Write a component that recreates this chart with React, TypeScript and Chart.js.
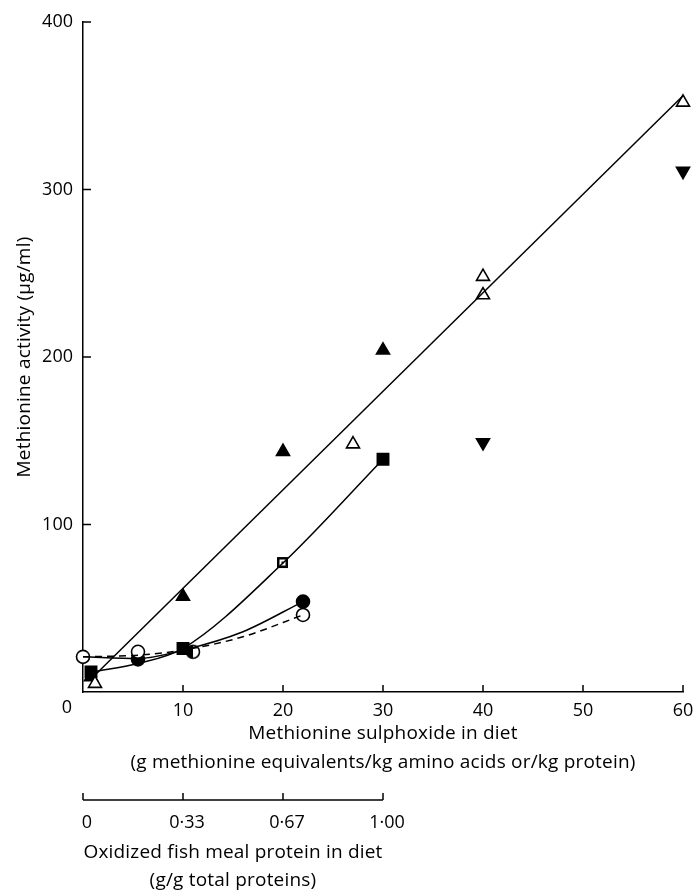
import React, { useEffect, useRef } from "react";
import { Chart, registerables } from "chart.js";
Chart.register(...registerables);

const FONT = "'Open Sans', Lato, sans-serif";

// ---- data ----
const openTriangles = [
  { x: 1.2, y: 5 },
  { x: 27, y: 148 },
  { x: 40, y: 248 },
  { x: 40, y: 237 },
  { x: 60, y: 352 },
];
const filledTriangles = [
  { x: 0.8, y: 9 },
  { x: 10, y: 57 },
  { x: 20, y: 143.5 },
  { x: 30, y: 204 },
];
const invertedTriangles = [
  { x: 40, y: 149 },
  { x: 60, y: 311 },
];
const filledSquares = [
  { x: 0.8, y: 12 },
  { x: 10, y: 26 },
  { x: 30, y: 139 },
];
const dottedSquares = [{ x: 20, y: 77 }];
const filledCircles = [
  { x: 5.5, y: 19.5 },
  { x: 22, y: 54 },
];
const openCircles = [
  { x: 0, y: 21 },
  { x: 5.5, y: 24 },
  { x: 22, y: 46 },
];
const halfCircles = [{ x: 11, y: 24 }];

const straightLine = [
  { x: 1, y: 9 },
  { x: 60, y: 356 },
];
const squaresCurve = [
  { x: 1, y: 12 },
  { x: 5.5, y: 17 },
  { x: 10, y: 26 },
  { x: 20, y: 77 },
  { x: 30, y: 139 },
];
const circlesCurve = [
  { x: 0, y: 21 },
  { x: 5.5, y: 20 },
  { x: 10, y: 25 },
  { x: 16, y: 36 },
  { x: 22, y: 54 },
];
const openCirclesDashed = [
  { x: 0, y: 21 },
  { x: 5.5, y: 22 },
  { x: 10, y: 25 },
  { x: 16, y: 33 },
  { x: 22, y: 46 },
];

const xTickValues = [0, 10, 20, 30, 40, 50, 60];
const yTickValues = [100, 200, 300, 400];
const secondaryTickValues = [0, 10, 20, 30];
const secondaryTickLabels = ["0", "0·33", "0·67", "1·00"];

const xTitle1 = "Methionine sulphoxide in diet";
const xTitle2 = "(g methionine equivalents/kg amino acids or/kg protein)";
const yTitle = "Methionine activity (μg/ml)";
const secTitle1 = "Oxidized fish meal protein in diet";
const secTitle2 = "(g/g total proteins)";

function makeHalfCircle(): HTMLCanvasElement {
  const c = document.createElement("canvas");
  c.width = 18;
  c.height = 18;
  const g = c.getContext("2d")!;
  g.fillStyle = "#fff";
  g.beginPath();
  g.arc(9, 9, 6.5, 0, Math.PI * 2);
  g.fill();
  g.fillStyle = "#000";
  g.beginPath();
  g.arc(9, 9, 6.5, Math.PI / 2, (Math.PI * 3) / 2);
  g.closePath();
  g.fill();
  g.lineWidth = 1.6;
  g.strokeStyle = "#000";
  g.beginPath();
  g.arc(9, 9, 6.5, 0, Math.PI * 2);
  g.stroke();
  return c;
}

function makeDottedSquare(): HTMLCanvasElement {
  const c = document.createElement("canvas");
  c.width = 14;
  c.height = 14;
  const g = c.getContext("2d")!;
  g.fillStyle = "#000";
  g.fillRect(1, 1, 11, 11);
  g.fillStyle = "#fff";
  g.fillRect(3.5, 3.5, 6, 6);
  g.fillStyle = "#000";
  g.fillRect(5.5, 5.5, 2, 2);
  return c;
}

const decorPlugin = {
  id: "decor",
  afterDraw(chart: any) {
    const ctx = chart.ctx as CanvasRenderingContext2D;
    const xs = chart.scales.x;
    const ys = chart.scales.y;
    const bottom = ys.bottom;
    const left = xs.left;
    ctx.save();
    ctx.strokeStyle = "#000";
    ctx.fillStyle = "#000";
    ctx.lineWidth = 1.5;
    // inward ticks on x
    xTickValues.forEach((v) => {
      if (v === 0) return;
      const px = xs.getPixelForValue(v);
      ctx.beginPath();
      ctx.moveTo(px, bottom);
      ctx.lineTo(px, bottom - 7);
      ctx.stroke();
    });
    // inward ticks on y
    yTickValues.forEach((v) => {
      const py = ys.getPixelForValue(v);
      ctx.beginPath();
      ctx.moveTo(left, py);
      ctx.lineTo(left + 8, py);
      ctx.stroke();
    });
    ctx.textAlign = "center";
    ctx.textBaseline = "middle";
    // x "0" label, offset left of the corner
    ctx.font = `18px ${FONT}`;
    ctx.fillText("0", xs.getPixelForValue(0) - 16, 708);
    // secondary axis
    const sx0 = xs.getPixelForValue(secondaryTickValues[0]);
    const sx1 = xs.getPixelForValue(secondaryTickValues[secondaryTickValues.length - 1]);
    const sy = 800;
    ctx.beginPath();
    ctx.moveTo(sx0, sy);
    ctx.lineTo(sx1, sy);
    ctx.stroke();
    secondaryTickValues.forEach((v, i) => {
      const px = xs.getPixelForValue(v);
      ctx.beginPath();
      ctx.moveTo(px, sy);
      ctx.lineTo(px, sy - 7);
      ctx.stroke();
      ctx.fillText(secondaryTickLabels[i], px + 4, 823);
    });
    // titles
    ctx.font = `19px ${FONT}`;
    (ctx as any).letterSpacing = "0.2px";
    const cx = (xs.left + xs.right) / 2;
    ctx.fillText(xTitle1, cx, 734);
    ctx.fillText(xTitle2, cx, 763);
    const scx = (sx0 + sx1) / 2;
    ctx.fillText(secTitle1, scx, 853);
    ctx.fillText(secTitle2, scx, 881);
    // y title
    ctx.translate(25, (ys.top + ys.bottom) / 2);
    ctx.rotate(-Math.PI / 2);
    ctx.fillText(yTitle, 0, 0);
    ctx.restore();
  },
};

export default function App() {
  const ref = useRef<HTMLCanvasElement | null>(null);
  useEffect(() => {
    if (!ref.current) return;
    const half = makeHalfCircle();
    const dotted = makeDottedSquare();
    const lineDs = (data: any[], dashed = false, monotone = true) => ({
      data,
      showLine: true,
      borderColor: "#000",
      borderWidth: 1.5,
      borderDash: dashed ? [7, 5] : [],
      pointRadius: 0,
      pointHoverRadius: 0,
      cubicInterpolationMode: monotone ? "monotone" : "default",
      tension: 0,
      fill: false,
      clip: false,
    });
    const markDs = (data: any[], style: any, radius: number, filled: boolean, rotation = 0) => ({
      data,
      showLine: false,
      clip: false,
      pointStyle: style,
      pointRadius: radius,
      pointHoverRadius: radius,
      pointRotation: rotation,
      pointBackgroundColor: filled ? "#000" : "#fff",
      pointBorderColor: "#000",
      pointBorderWidth: 1.6,
    });
    const chart = new Chart(ref.current, {
      type: "scatter",
      data: {
        datasets: [
          lineDs(straightLine, false, false),
          lineDs(squaresCurve),
          lineDs(circlesCurve),
          lineDs(openCirclesDashed, true),
          markDs(openTriangles, "triangle", 7.5, false),
          markDs(filledTriangles, "triangle", 7.5, true),
          markDs(invertedTriangles, "triangle", 7.5, true, 180),
          markDs(filledSquares, "rect", 8, true),
          markDs(dottedSquares, dotted, 7, true),
          markDs(openCircles, "circle", 6.5, false),
          markDs(filledCircles, "circle", 6.5, true),
          markDs(halfCircles, half, 7, true),
        ] as any,
      },
      options: {
        animation: false,
        responsive: false,
        events: [],
        layout: { padding: { top: 22, right: 12, left: 0, bottom: 0 } },
        plugins: { legend: { display: false }, tooltip: { enabled: false } },
        scales: {
          x: {
            type: "linear",
            min: 0,
            max: 60,
            afterFit: (s: any) => {
              s.height = 198;
              s.paddingLeft = 0;
              s.paddingRight = 0;
            },
            afterBuildTicks: (s: any) => {
              s.ticks = xTickValues.map((v) => ({ value: v }));
            },
            border: { display: true, color: "#000", width: 1.5 },
            grid: { display: true, drawOnChartArea: false, drawTicks: false },
            ticks: {
              color: "#000",
              padding: 8,
              font: { family: FONT, size: 18 },
              maxRotation: 0,
              callback: (v: any) => (v === 0 ? "" : String(v)),
            },
          },
          y: {
            type: "linear",
            min: 0,
            max: 400,
            afterFit: (s: any) => {
              s.width = 83;
              s.paddingTop = 0;
              s.paddingBottom = 0;
            },
            afterBuildTicks: (s: any) => {
              s.ticks = [0, ...yTickValues].map((v) => ({ value: v }));
            },
            border: { display: true, color: "#000", width: 1.5 },
            grid: { display: true, drawOnChartArea: false, drawTicks: false },
            ticks: {
              color: "#000",
              padding: 10,
              font: { family: FONT, size: 18 },
              callback: (v: any) => (v === 0 ? "" : String(v)),
            },
          },
        },
      },
      plugins: [decorPlugin],
    });
    return () => chart.destroy();
  }, []);
  return (
    <div style={{ position: "absolute", left: 0, top: 0, width: 695, height: 890, background: "#fff" }}>
      <canvas ref={ref} width={695} height={890} />
    </div>
  );
}
